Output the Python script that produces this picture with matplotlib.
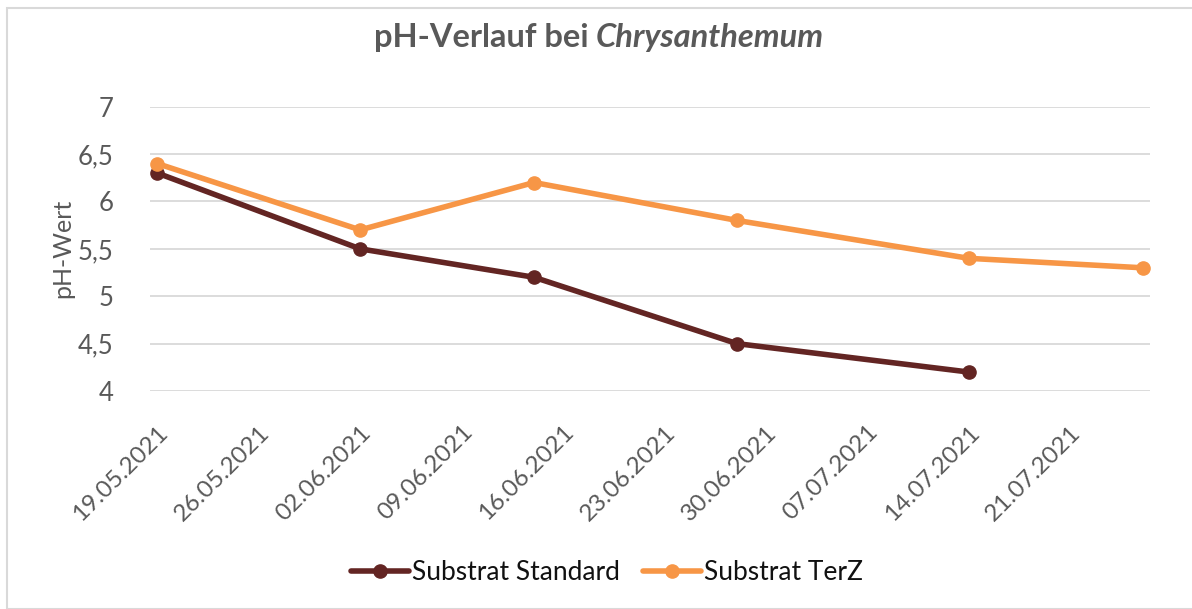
import matplotlib
matplotlib.use("Agg")
import matplotlib.pyplot as plt
from matplotlib.patches import Rectangle
import datetime as dt

plt.rcParams['font.family'] = ['Lato', 'DejaVu Sans']

dates = ["19.05.2021", "02.06.2021", "14.06.2021", "28.06.2021", "14.07.2021", "26.07.2021"]
standard = [6.3, 5.5, 5.2, 4.5, 4.2, None]
terz = [6.4, 5.7, 6.2, 5.8, 5.4, 5.3]
tick_dates = ["19.05.2021", "26.05.2021", "02.06.2021", "09.06.2021", "16.06.2021",
              "23.06.2021", "30.06.2021", "07.07.2021", "14.07.2021", "21.07.2021"]
y_ticks = [4, 4.5, 5, 5.5, 6, 6.5, 7]

def parse(s):
    return dt.datetime.strptime(s, "%d.%m.%Y")

half = dt.timedelta(hours=12)
x = [parse(d) + half for d in dates]
xs = [xi for xi, v in zip(x, standard) if v is not None]
vs = [v for v in standard if v is not None]

TEXT = '#595959'
fig = plt.figure(figsize=(11.92, 6.09), dpi=100)
fig.patches.append(Rectangle((7/1192, 0), 1.2, 1 - 8/609, transform=fig.transFigure,
                             fill=False, edgecolor='#D9D9D9', linewidth=1.5))
ax = fig.add_axes([150/1192, 1 - 391/609, 1000/1192, (391 - 106.7)/609])

ax.plot(xs, vs, color='#632523', linewidth=4, marker='o', markersize=9.5,
        label='Substrat Standard', solid_capstyle='round', zorder=3)
ax.plot(x, terz, color='#F79646', linewidth=4, marker='o', markersize=9.5,
        label='Substrat TerZ', solid_capstyle='round', zorder=3)

ax.set_xlim(parse(dates[0]), parse(dates[-1]) + dt.timedelta(days=1))
ax.set_ylim(4, 7)
ax.set_yticks(y_ticks)
ax.set_yticklabels([('%g' % v).replace('.', ',') for v in y_ticks])
ax.set_xticks([parse(t) + half for t in tick_dates])
ax.set_xticklabels(tick_dates, rotation=45, ha='right', rotation_mode='anchor')
ax.tick_params(axis='x', length=0, pad=22, labelsize=17.5, labelcolor=TEXT)
ax.tick_params(axis='y', length=0, pad=26, labelsize=18.5, labelcolor=TEXT)
for s in ax.spines.values():
    s.set_visible(False)
ax.grid(axis='y', color='#D9D9D9', linewidth=1.3)
ax.set_axisbelow(True)
ax.set_ylabel('pH-Wert', fontsize=18, color=TEXT, labelpad=3)

fig.text(0.5, 1 - 37/609, 'pH-Verlauf bei ', fontsize=23.5, fontweight='bold', color=TEXT,
         ha='right', va='center')
fig.text(0.5, 1 - 37/609, 'Chrysanthemum', fontsize=23.5, fontweight='bold', fontstyle='italic',
         color=TEXT, ha='left', va='center')

fig.legend(loc='center', bbox_to_anchor=(607/1192, 1 - 573/609), ncol=2, frameon=False,
           fontsize=19, handlelength=2.2, handletextpad=0.1, columnspacing=0.9,
           labelcolor='#111111')

fig.savefig('out.png', dpi=100)
